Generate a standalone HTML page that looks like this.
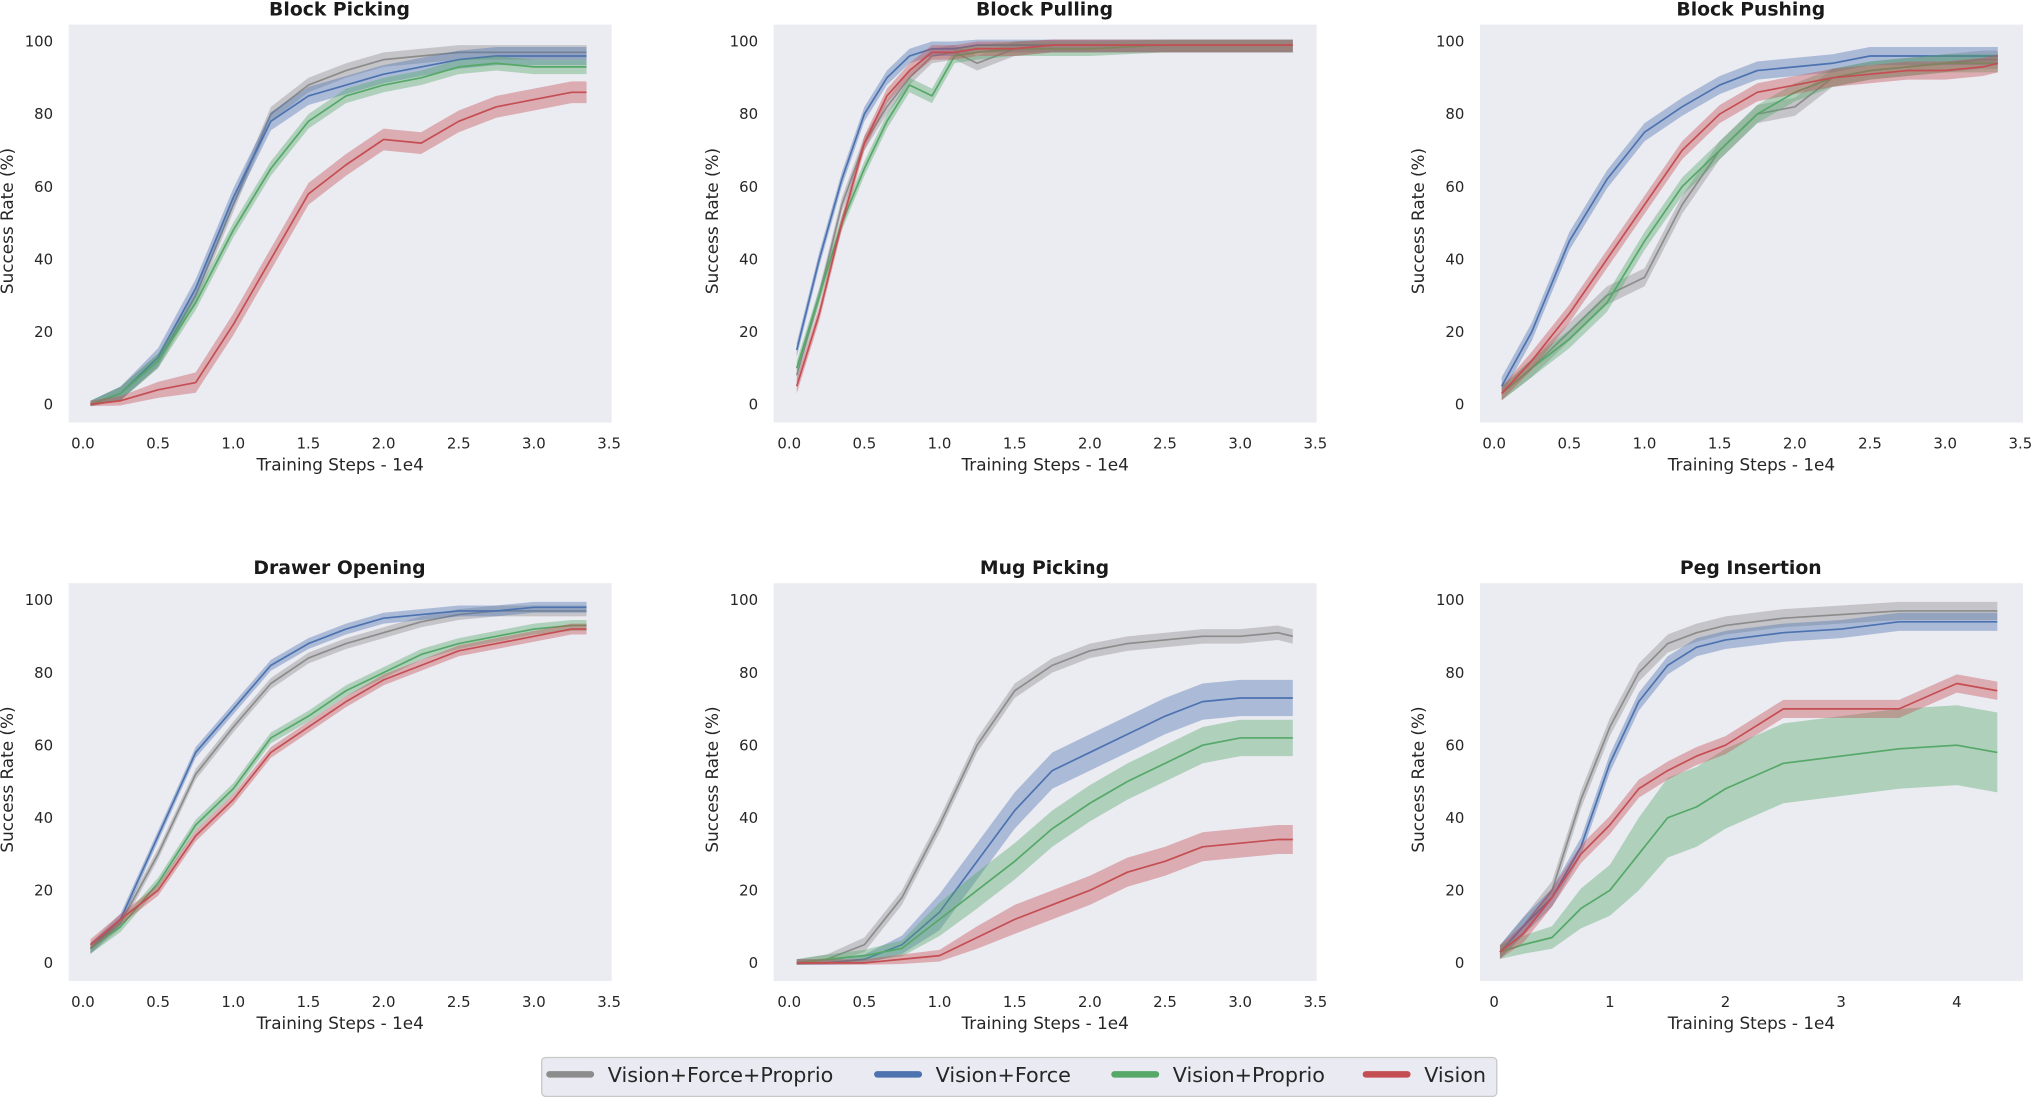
<!DOCTYPE html>
<html><head><meta charset="utf-8"><style>
html,body{margin:0;padding:0;background:#fff;}
svg{display:block;font-family:"DejaVu Sans","Liberation Sans",sans-serif;}
</style></head><body>
<svg id="fig" width="2032" height="1099" viewBox="0 0 1568 848" xmlns="http://www.w3.org/2000/svg"></svg>
<script>
const seriesNames=["Vision+Force+Proprio","Vision+Force","Vision+Proprio","Vision"];
const colors=["#8c8c8c","#4c72b0","#55a868","#c44e52"];
const xStd=[0.05,0.25,0.5,0.75,1.0,1.25,1.5,1.75,2.0,2.25,2.5,2.75,3.0,3.25,3.35];
const xPull=[0.05,0.2,0.35,0.5,0.65,0.8,0.95,1.1,1.25,1.5,1.75,2.0,2.5,3.0,3.35];
const xPeg=[0.05,0.25,0.5,0.75,1.0,1.25,1.5,1.75,2.0,2.5,3.0,3.5,4.0,4.35];
const titles=["Block Picking","Block Pulling","Block Pushing","Drawer Opening","Mug Picking","Peg Insertion"];
const pickGray=[0,3,12,30,55,80,88,92,95,96,97,97,97,97,97];
const pickBlue=[0,3,13,32,57,78,85,88,91,93,95,96,96,96,96];
const pickGreen=[0,3,12,28,48,65,78,85,88,90,93,94,93,93,93];
const pickRed=[0,1,4,6,22,40,58,66,73,72,78,82,84,86,86];
const pullGray=[8,30,55,72,82,90,96,97,94,98,99,99,99,99,99];
const pullBlue=[15,40,62,80,90,96,98,98,99,99,99,99,99,99,99];
const pullGreen=[10,30,50,65,78,88,85,96,97,98,98,98,99,99,99];
const pullRed=[5,25,50,72,85,92,97,97,98,98,99,99,99,99,99];
const pushGray=[3,10,20,30,35,55,70,80,82,90,92,93,94,95,95];
const pushBlue=[5,20,45,62,75,82,88,92,93,94,96,96,96,96,96];
const pushGreen=[3,10,18,28,45,60,70,80,86,90,92,93,94,94,94];
const pushRed=[3,12,25,40,55,70,80,86,88,90,91,92,92,93,94];
const drawGray=[4,11,30,52,65,77,84,88,91,94,96,97,97,97,97];
const drawBlue=[4,12,35,58,70,82,88,92,95,96,97,97,98,98,98];
const drawGreen=[4,10,22,38,48,62,68,75,80,85,88,90,92,93,93];
const drawRed=[5,12,20,35,45,58,65,72,78,82,86,88,90,92,92];
const mugGray=[0,1,5,18,38,60,75,82,86,88,89,90,90,91,90];
const mugBlue=[0,0,1,5,14,28,42,53,58,63,68,72,73,73,73];
const mugGreen=[0,1,2,4,12,20,28,37,44,50,55,60,62,62,62];
const mugRed=[0,0,0,1,2,7,12,16,20,25,28,32,33,34,34];
const pegGray=[3,10,20,45,65,80,88,91,93,95,96,97,97,97];
const pegBlue=[3,10,18,32,55,72,82,87,89,91,92,94,94,94];
const pegRed=[3,8,18,30,38,48,53,57,60,70,70,70,77,75];
const pegGreen=[3,5,7,15,20,30,40,43,48,55,57,59,60,58];
const spreadPick=[2,2.5,2,3];
const spreadPull=[2,2,2,2];
const spreadPush=[2.5,2.5,2.5,2.5];
const spreadDraw=[1.5,1.5,1.5,1.5];
const spreadMug=[2,5,5,4];
const spreadPeg=[2.5,2.5,11,2.5];
const xTicksStd=["0.0","0.5","1.0","1.5","2.0","2.5","3.0","3.5"];
const xTicksPeg=["0","1","2","3","4"];
const yTicks=[0,20,40,60,80,100];

const NS="http://www.w3.org/2000/svg";
const svg=document.getElementById("fig");
function mk(t,a,p){const e=document.createElementNS(NS,t);for(const k in a)e.setAttribute(k,a[k]);(p||svg).appendChild(e);return e;}

const panels=[
 {x:xStd,ys:[pickGray,pickBlue,pickGreen,pickRed],sp:spreadPick,ticks:xTicksStd,xmax:3.5},
 {x:xPull,ys:[pullGray,pullBlue,pullGreen,pullRed],sp:spreadPull,ticks:xTicksStd,xmax:3.5},
 {x:xStd,ys:[pushGray,pushBlue,pushGreen,pushRed],sp:spreadPush,ticks:xTicksStd,xmax:3.5},
 {x:xStd,ys:[drawGray,drawBlue,drawGreen,drawRed],sp:spreadDraw,ticks:xTicksStd,xmax:3.5},
 {x:xStd,ys:[mugGray,mugBlue,mugGreen,mugRed],sp:spreadMug,ticks:xTicksStd,xmax:3.5},
 {x:xPeg,ys:[pegGray,pegBlue,pegGreen,pegRed],sp:spreadPeg,ticks:xTicksPeg,xmax:4}
];
const colL=[53,597,1142], colW=419;
const rowT=[19,450], rowH=307;
const x0off=[11,12,11];
panels.forEach((p,i)=>{
  const c=i%3,r=Math.floor(i/3);
  const L=colL[c],T=rowT[r];
  const g=mk("g",{});
  
  
  mk("rect",{x:L,y:T,width:colW,height:rowH,fill:"#ebebf2"},g);
  const px0=L+x0off[c];
  const px1 = i===5 ? px0+4*89.25 : px0+406;
  const xs=v=>px0+(v/p.xmax)*(px1-px0);
  const ys=v=>T+293-(v/100)*280;
  yTicks.forEach(t=>{const e=mk("text",{x:L-12,y:ys(t)+4,"text-anchor":"end","font-size":"11.5",fill:"#262626"},g);e.textContent=t;
    });
  p.ticks.forEach((t,k)=>{const v=parseFloat(t);const e=mk("text",{x:xs(v),y:T+327,"text-anchor":"middle","font-size":"11.5",fill:"#262626"},g);e.textContent=t;
    });
  const xl=mk("text",{x:L+colW/2,y:T+344,"text-anchor":"middle","font-size":"13",fill:"#262626"},g);xl.textContent="Training Steps - 1e4";
  
  const yl=mk("text",{transform:`translate(${L-43},${T+rowH/2-2}) rotate(-90)`,"text-anchor":"middle","font-size":"13",fill:"#262626"},g);yl.textContent="Success Rate (%)";
  
  const tt=mk("text",{x:L+209,y:T-7,"text-anchor":"middle","font-size":"14.5","font-weight":"bold",fill:"#1a1a1a"},g);tt.textContent=titles[i];
  
  p.ys.forEach((arr,s)=>{
    const w=v=>Math.min(p.sp[s],v*0.3+1);
    const up=arr.map((v,k)=>xs(p.x[k])+","+ys(Math.min(100.5,v+w(v)))).join(" ");
    const dn=arr.map((v,k)=>xs(p.x[k])+","+ys(Math.max(-0.5,v-w(v)))).reverse().join(" ");
    const band=mk("polygon",{points:up+" "+dn,fill:colors[s],"fill-opacity":"0.4"},g);
    
    
    const ln=mk("polyline",{points:arr.map((v,k)=>xs(p.x[k])+","+ys(v)).join(" "),fill:"none",stroke:colors[s],"stroke-width":"1.3","stroke-linejoin":"round"},g);
    
    
  });
});
const lg=mk("g",{});


mk("rect",{x:418,y:816,width:737,height:30,rx:3,fill:"#eaeaf2",stroke:"#c8c8c8","stroke-width":"1"},lg);
const lx=[422,675,858,1052];
seriesNames.forEach((n,s)=>{
  const it=mk("g",{},lg);
  
  
  mk("line",{x1:lx[s]+2,y1:829,x2:lx[s]+34,y2:829,stroke:colors[s],"stroke-width":"5","stroke-linecap":"round"},it);
  const t=mk("text",{x:lx[s]+47,y:835,"font-size":"16",fill:"#262626"},it);t.textContent=n;
});
</script>
</body></html>
